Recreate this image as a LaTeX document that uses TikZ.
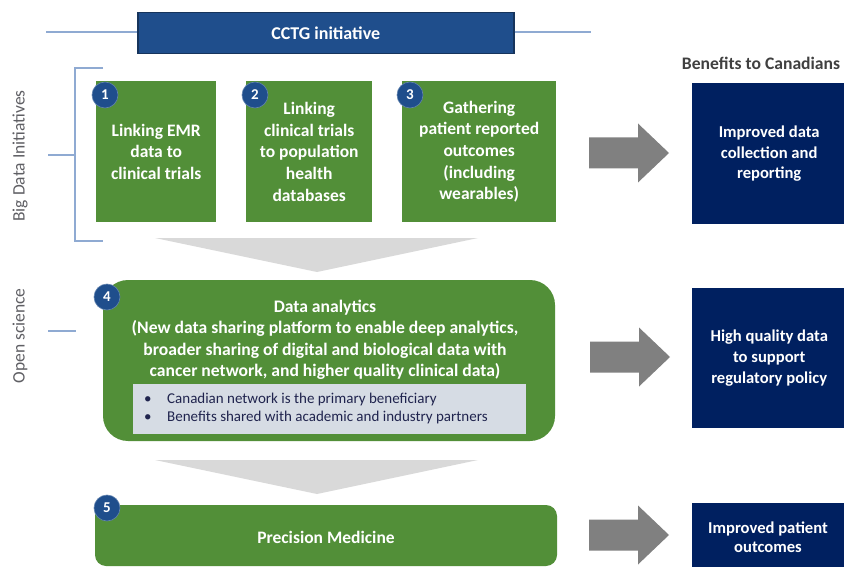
\documentclass[tikz,border=0pt]{standalone}
\usepackage{fontspec}
\setmainfont{Carlito}
\usetikzlibrary{calc}

\definecolor{leafgreen}{RGB}{82,143,56}
\definecolor{navyfill}{RGB}{0,32,96}
\definecolor{headblue}{RGB}{31,78,140}
\definecolor{headedge}{RGB}{22,52,92}
\definecolor{guideblue}{RGB}{143,170,210}
\definecolor{arrowgray}{RGB}{128,128,128}
\definecolor{chevrongray}{RGB}{217,217,217}
\definecolor{notegray}{RGB}{214,220,228}
\definecolor{notetext}{RGB}{32,36,78}
\definecolor{labelgray}{RGB}{95,95,100}
\definecolor{headtext}{RGB}{64,64,64}

\tikzset{
  greenbox/.style={fill=leafgreen, draw=none, text=white, align=center,
    font=\bfseries\fontsize{17.5}{21.7}\selectfont, inner sep=0pt, anchor=north west},
  navybox/.style={fill=navyfill, draw=none, text=white, align=center,
    font=\bfseries\fontsize{16.6}{20.8}\selectfont, inner sep=0pt, anchor=north west},
  numdot/.style={circle, fill=headblue, draw=headblue!70!white, line width=0.6pt, text=white,
    minimum size=26pt, inner sep=0pt, font=\bfseries\fontsize{15}{15}\selectfont},
  guide/.style={draw=guideblue, line width=1.3pt},
  sidelabel/.style={rotate=90, text=labelgray, font=\fontsize{17.5}{18}\selectfont},
  blockarrow/.pic={
    \fill[arrowgray] (0,-15.5) -- (49,-15.5) -- (49,-29.5) -- (80,0)
      -- (49,29.5) -- (49,15.5) -- (0,15.5) -- cycle;
  },
  chevron/.pic={
    \fill[chevrongray] (-162,0) -- (161,0) -- (0,34) -- cycle;
  }
}

\begin{document}
\begin{tikzpicture}[x=1pt, y=-1pt]
\clip (0,0) rectangle (844,567);
\fill[white] (0,0) rectangle (844,567);

% header bar
\node[fill=headblue, draw=headedge, line width=1.5pt, text=white,
      minimum width=376pt, minimum height=41pt, anchor=north west,
      font=\bfseries\fontsize{18}{20}\selectfont] (cctg) at (137,12) {CCTG initiative};
\coordinate (hl) at (46,32);
\coordinate (hr) at (591,32);
\draw[guide] (hl) -- (hl -| cctg.west);
\draw[guide] (hr -| cctg.east) -- (hr);

% big data initiatives bracket
\coordinate (brt) at (103,68);
\coordinate (brb) at (103,241);
\coordinate (brx) at (75,155);
\coordinate (bdt) at (48,155);
\draw[guide] (brt) -- (brt -| brx) -- (brb -| brx) -- (brb);
\draw[guide] (bdt) -- (brx);
\node[sidelabel] (bdlabel) at (20,156) {Big Data Initiatives};

% open science tick
\coordinate (ost) at (48,331);
\coordinate (osb) at (76,331);
\draw[guide] (ost) -- (osb);
\node[sidelabel] (oslabel) at (20,336) {Open science};

% initiatives 1-3
\node[greenbox, minimum width=120pt, minimum height=141pt] (b1) at (96,81)
  {Linking EMR\\data to\\clinical trials};
\node[greenbox, minimum width=126pt, minimum height=141pt] (b2) at (246,81)
  {Linking\\clinical trials\\to population\\health\\databases};
\node[greenbox, minimum width=154pt, minimum height=141pt] (b3) at (402,81)
  {Gathering\\patient reported\\outcomes\\(including\\wearables)};
\node[numdot] (n1) at (105,95) {1};
\node[numdot] (n2) at (255,95) {2};
\node[numdot] (n3) at (410,95) {3};

% flow down to analytics
\pic at (317,238) {chevron};

% data analytics
\path[fill=leafgreen, rounded corners=25pt] (103,280) rectangle (555,441);
\node[text=white, align=center, font=\bfseries\fontsize{17.6}{21.4}\selectfont,
      anchor=center] (b4) at (325,340)
  {Data analytics\\(New data sharing platform to enable deep analytics,\\broader sharing of digital and biological data with\\cancer network, and higher quality clinical data)};
\node[fill=notegray, minimum width=393pt, minimum height=50pt, anchor=north west,
      inner sep=0pt] (note) at (133,384) {};
\node[anchor=west, text=notetext, align=left, font=\fontsize{15}{18}\selectfont,
      inner sep=0pt] (notetxt) at (144,408)
  {\makebox[23pt][l]{\textbullet}Canadian network is the primary beneficiary\\
   \makebox[23pt][l]{\textbullet}Benefits shared with academic and industry partners};
\node[numdot] (n4) at (107,297) {4};

% flow down to precision medicine
\pic at (317,460) {chevron};

% precision medicine
\path[fill=leafgreen, rounded corners=11pt] (95,505) rectangle (557,566);
\node[text=white, font=\bfseries\fontsize{17.5}{21}\selectfont] (b5) at (326,537)
  {Precision Medicine};
\node[numdot] (n5) at (107,508) {5};

% benefits
\node[text=headtext, font=\bfseries\fontsize{17.6}{19}\selectfont] (benefits) at (761,63)
  {Benefits to Canadians};
\node[navybox, minimum width=154pt, minimum height=141pt] (r1) at (692,83)
  {Improved data\\collection and\\reporting};
\node[navybox, minimum width=154pt, minimum height=140pt] (r2) at (692,288)
  {High quality data\\to support\\regulatory policy};
\node[navybox, minimum width=154pt, minimum height=70pt] (r3) at (692,503) {};
\node[text=white, align=center, font=\bfseries\fontsize{16.6}{19.5}\selectfont] (r3txt)
  at (768,537) {Improved patient\\outcomes};

% arrows into the benefits
\pic at (589,153) {blockarrow};
\pic at (590,357) {blockarrow};
\pic at (589,535) {blockarrow};
\end{tikzpicture}
\end{document}
